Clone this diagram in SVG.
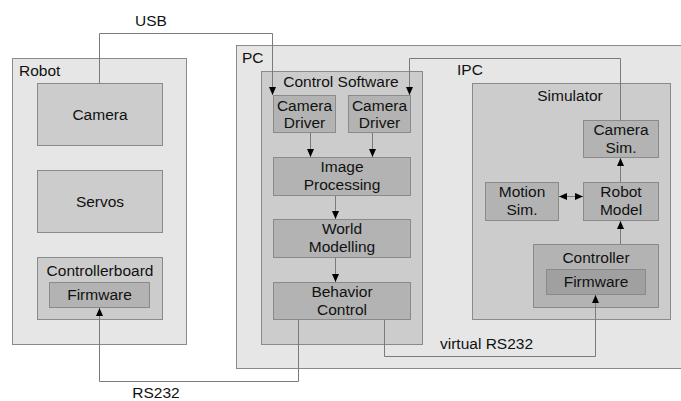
<svg xmlns="http://www.w3.org/2000/svg" width="681" height="401" viewBox="0 0 681 401">
<style>
text{font-family:"Liberation Sans",Arial,sans-serif;font-size:15.5px;fill:#111}
.c{text-anchor:middle}
.b{stroke:#8a8a8a;stroke-width:1}
.l0{fill:#e6e6e6}
.l1{fill:#cccccc}
.l2{fill:#b3b3b3}
.l3{fill:#a0a0a0}
.w{fill:none;stroke:#7a7a7a;stroke-width:1}
</style>
<defs>
<marker id="ah" viewBox="0 0 8 8" refX="8" refY="4" markerWidth="8" markerHeight="8" markerUnits="userSpaceOnUse" orient="auto-start-reverse">
<path d="M0,0.5 L8,4 L0,7.5 Z" fill="#000"/>
</marker>
</defs>
<rect width="681" height="401" fill="#fff"/>
<g id="robot">
<rect class="b l0" x="12.5" y="58.5" width="174" height="286"/>
<text x="19" y="76">Robot</text>
</g>
<g id="camera">
<rect class="b l1" x="37.5" y="83.5" width="125" height="62"/>
<text class="c" x="100" y="119.5">Camera</text>
</g>
<g id="servos">
<rect class="b l1" x="37.5" y="170.5" width="125" height="62"/>
<text class="c" x="100" y="206.5">Servos</text>
</g>
<g id="controllerboard">
<rect class="b l1" x="37.5" y="257.5" width="125" height="62"/>
<text class="c" x="100" y="275.5">Controllerboard</text>
</g>
<g id="firmware-robot">
<rect class="b l2" x="49.5" y="282.5" width="100" height="25"/>
<text class="c" x="99.5" y="300">Firmware</text>
</g>
<g id="pc">
<rect class="b l0" x="236.5" y="45.5" width="460" height="323"/>
<text x="242" y="63">PC</text>
<text x="457" y="75">IPC</text>
</g>
<g id="control-software">
<rect class="b l1" x="261.5" y="71.5" width="161" height="273"/>
<text class="c" x="341" y="87">Control Software</text>
</g>
<g id="camera-driver-1">
<rect class="b l2" x="273.5" y="95.5" width="62" height="37"/>
<text class="c" x="304.5" y="110.5">Camera</text>
<text class="c" x="304.5" y="128">Driver</text>
</g>
<g id="camera-driver-2">
<rect class="b l2" x="348.5" y="95.5" width="62" height="37"/>
<text class="c" x="379.5" y="110.5">Camera</text>
<text class="c" x="379.5" y="128">Driver</text>
</g>
<g id="image-processing">
<rect class="b l2" x="273.5" y="157.5" width="137" height="38"/>
<text class="c" x="342" y="172">Image</text>
<text class="c" x="342" y="190">Processing</text>
</g>
<g id="world-modelling">
<rect class="b l2" x="273.5" y="219.5" width="137" height="38"/>
<text class="c" x="342" y="234">World</text>
<text class="c" x="342" y="252">Modelling</text>
</g>
<g id="behavior-control">
<rect class="b l2" x="273.5" y="282.5" width="137" height="37"/>
<text class="c" x="342" y="297">Behavior</text>
<text class="c" x="342" y="315">Control</text>
</g>
<g id="simulator">
<rect class="b l1" x="472.5" y="83.5" width="198" height="236"/>
<text class="c" x="570" y="101">Simulator</text>
</g>
<g id="camera-sim">
<rect class="b l2" x="583.5" y="120.5" width="75" height="37"/>
<text class="c" x="621" y="135">Camera</text>
<text class="c" x="621" y="153">Sim.</text>
</g>
<g id="motion-sim">
<rect class="b l2" x="485.5" y="182.5" width="73" height="38"/>
<text class="c" x="522" y="197">Motion</text>
<text class="c" x="522" y="215">Sim.</text>
</g>
<g id="robot-model">
<rect class="b l2" x="583.5" y="182.5" width="75" height="38"/>
<text class="c" x="621" y="197">Robot</text>
<text class="c" x="621" y="215">Model</text>
</g>
<g id="controller">
<rect class="b l2" x="533.5" y="244.5" width="125" height="63"/>
<text class="c" x="596" y="263">Controller</text>
</g>
<g id="firmware-sim">
<rect class="b l3" x="546.5" y="269.5" width="99" height="25"/>
<text class="c" x="596" y="287">Firmware</text>
</g>
<g id="connectors">
<path class="w" d="M99.5,83 V33.5 H272.5 V95" marker-end="url(#ah)"/>
<text class="c" x="151" y="26">USB</text>
<path class="w" d="M620.5,120 V58.5 H409.5 V95" marker-end="url(#ah)"/>
<path class="w" d="M298.5,320 V381.5 H99.5 V308" marker-end="url(#ah)"/>
<text class="c" x="156" y="398">RS232</text>
<path class="w" d="M384.5,320 V356.5 H595.5 V295" marker-end="url(#ah)"/>
<text x="440" y="349">virtual RS232</text>
<path class="w" d="M310.5,133 V157" marker-end="url(#ah)"/>
<path class="w" d="M372.5,133 V157" marker-end="url(#ah)"/>
<path class="w" d="M335.5,196 V219" marker-end="url(#ah)"/>
<path class="w" d="M335.5,258 V282" marker-end="url(#ah)"/>
<path class="w" d="M620.5,244 V221" marker-end="url(#ah)"/>
<path class="w" d="M620.5,182 V158" marker-end="url(#ah)"/>
<path class="w" d="M559,196.5 H583" marker-start="url(#ah)" marker-end="url(#ah)"/>
</g>
</svg>
